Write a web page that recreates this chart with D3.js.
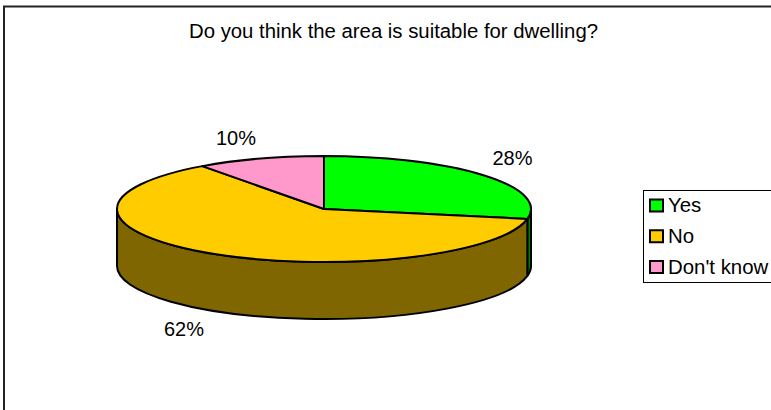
<!DOCTYPE html>
<html><head><meta charset="utf-8">
<script src="https://cdn.jsdelivr.net/npm/d3@7/dist/d3.min.js"></script>
<style>html,body{margin:0;padding:0;background:#fff}svg{display:block}text{font-family:"Liberation Sans",Arial,sans-serif;fill:#000}</style>
</head><body><script>
const categories=["Yes","No","Don't know"];
const values=[28,62,10];
const labels=["28%","62%","10%"];
const colors=["#00ff00","#ffcc00","#ff99cc"];
const sideColors=["#008000","#806600","#804d66"];
const title="Do you think the area is suitable for dwelling?";

const W=771,H=410,cx=324,cy=209,rx=207,ry=53,depth=57;
const svg=d3.select("body").append("svg").attr("width",W).attr("height",H);

svg.append("rect").attr("x",4).attr("y",6.5).attr("width",W+20).attr("height",H+20)
  .attr("fill","#fff").attr("stroke","#222").attr("stroke-width",2);
svg.append("text").attr("x",393.5).attr("y",38).attr("text-anchor","middle").attr("font-size",20).attr("textLength",409).attr("lengthAdjust","spacingAndGlyphs").text(title);

const arcs=d3.pie().sort(null)(values);
const px=a=>cx+rx*Math.sin(a), py=(a,d=0)=>cy-ry*Math.cos(a)+d;
const curve=(a0,a1,d)=>{const large=Math.abs(a1-a0)>Math.PI?1:0,sw=a1>a0?1:0;
  return `A${rx},${ry} 0 ${large} ${sw} ${px(a1)},${py(a1,d)}`;};
const front0=Math.PI/2, front1=3*Math.PI/2;

arcs.forEach(s=>{
  const a0=Math.max(s.startAngle,front0), a1=Math.min(s.endAngle,front1);
  if(a1<=a0) return;
  svg.append("path").attr("fill",sideColors[s.index]).attr("stroke","#000").attr("stroke-width",2).attr("stroke-linejoin","round")
    .attr("d",`M${px(a0)},${py(a0)}${curve(a0,a1,0)}L${px(a1)},${py(a1,depth)}${curve(a1,a0,depth)}Z`);
});
arcs.forEach(s=>{
  svg.append("path").attr("fill",colors[s.index]).attr("stroke","#000").attr("stroke-width",2).attr("stroke-linejoin","round")
    .attr("d",`M${cx},${cy}L${px(s.startAngle)},${py(s.startAngle)}${curve(s.startAngle,s.endAngle,0)}Z`);
});

const labelPos=[[512.5,165],[184,336],[236,145]];
svg.selectAll("text.pct").data(labels).join("text").attr("class","pct")
  .attr("x",(d,i)=>labelPos[i][0]).attr("y",(d,i)=>labelPos[i][1])
  .attr("text-anchor","middle").attr("font-size",20).text(d=>d);

svg.append("rect").attr("x",643.5).attr("y",190.5).attr("width",W).attr("height",92)
  .attr("fill","#fff").attr("stroke","#000").attr("stroke-width",1);
const ly=d3.scalePoint().domain(categories).range([205.5,267]);
const lg=svg.selectAll("g.lg").data(categories).join("g").attr("class","lg");
lg.append("rect").attr("x",650).attr("y",d=>ly(d)-6).attr("width",13).attr("height",12)
  .attr("fill",(d,i)=>colors[i]).attr("stroke","#000").attr("stroke-width",2);
lg.append("text").attr("x",668).attr("y",d=>ly(d)+6.5).attr("font-size",20.4).text(d=>d);
</script></body></html>
